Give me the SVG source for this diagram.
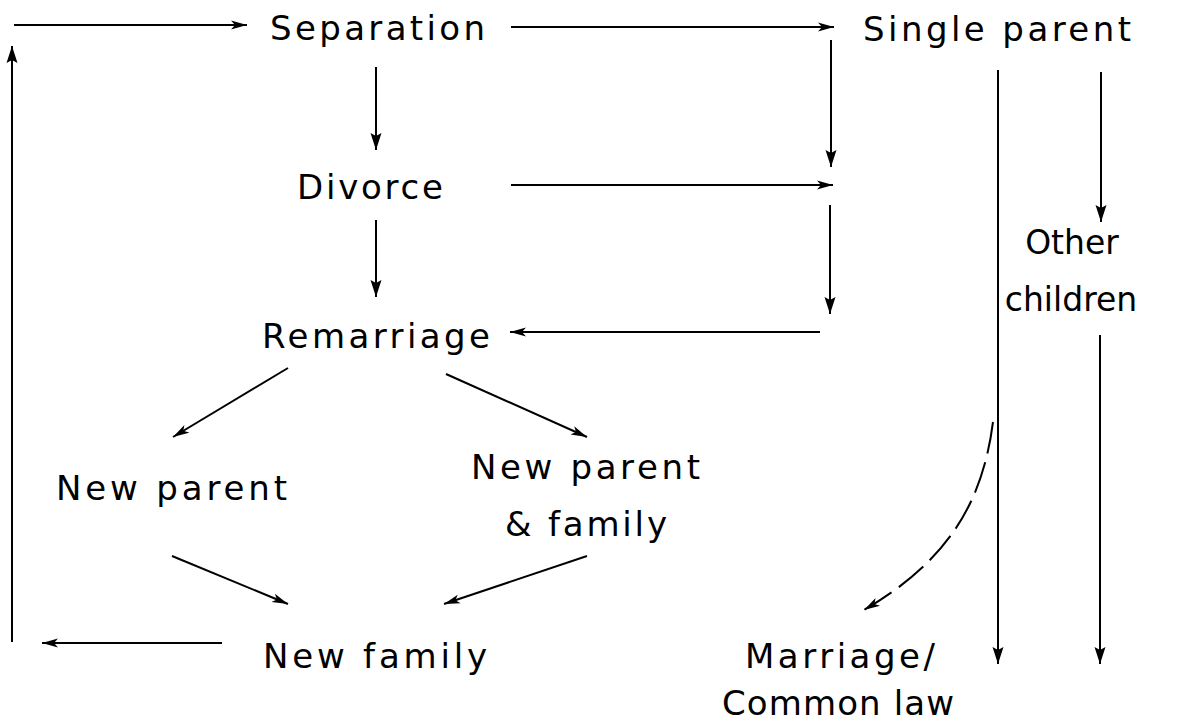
<svg xmlns="http://www.w3.org/2000/svg" width="1198" height="722" viewBox="0 0 1198 722">
<style>
text{font-family:"DejaVu Sans","Liberation Sans",Arial,sans-serif;font-size:34px;fill:#000}
.m{text-anchor:middle;font-size:33px}
.c{fill:none;stroke:#000;stroke-width:2}
.d{stroke-dasharray:32 9}
</style>
<defs>
<marker id="tri" markerUnits="userSpaceOnUse" markerWidth="18" markerHeight="14" refX="17" refY="6" orient="auto">
<path d="M0,0.5 L17,6 L0,11.5 L3,6 z" fill="#000"/>
</marker>
<marker id="barb" markerUnits="userSpaceOnUse" markerWidth="18" markerHeight="12" refX="16" refY="5" orient="auto">
<path d="M0,0.5 L16,5 L0,9.5 L4,5 z" fill="#000"/>
</marker>
</defs>
<rect width="1198" height="722" fill="#fff"/>
<g id="connectors">
<path class="c" d="M14,25 H247" marker-end="url(#barb)"/>
<path class="c" d="M12,642 V46" marker-end="url(#tri)"/>
<path class="c" d="M511,27 H834" marker-end="url(#barb)"/>
<path class="c" d="M376,67 V150" marker-end="url(#tri)"/>
<path class="c" d="M831,40 V167" marker-end="url(#tri)"/>
<path class="c" d="M511,185 H833" marker-end="url(#barb)"/>
<path class="c" d="M376,220 V297" marker-end="url(#tri)"/>
<path class="c" d="M830,205 V314" marker-end="url(#tri)"/>
<path class="c" d="M820,332 H510" marker-end="url(#barb)"/>
<path class="c" d="M288,368 L173,437" marker-end="url(#barb)"/>
<path class="c" d="M446,374 L587,437" marker-end="url(#barb)"/>
<path class="c" d="M172,556 L288,604" marker-end="url(#barb)"/>
<path class="c" d="M587,556 L444,604" marker-end="url(#barb)"/>
<path class="c" d="M222,643 H42" marker-end="url(#barb)"/>
<path class="c" d="M998,70 V664" marker-end="url(#tri)"/>
<path class="c" d="M1101,72 V222" marker-end="url(#tri)"/>
<path class="c" d="M1100,335 V664" marker-end="url(#tri)"/>
<path class="c d" d="M993,422 C983,500 950,560 864,610" marker-end="url(#barb)"/>
</g>
<g id="separation"><text x="270" y="40" textLength="215" lengthAdjust="spacing">Separation</text></g>
<g id="single-parent"><text x="863" y="41" textLength="268" lengthAdjust="spacing">Single parent</text></g>
<g id="divorce"><text x="297" y="199" textLength="146" lengthAdjust="spacing">Divorce</text></g>
<g id="other-children"><text class="m" x="1072" y="254">Other</text><text class="m" x="1071" y="311">children</text></g>
<g id="remarriage"><text x="262" y="348" textLength="228" lengthAdjust="spacing">Remarriage</text></g>
<g id="new-parent"><text x="56" y="500" textLength="231" lengthAdjust="spacing">New parent</text></g>
<g id="new-parent-family"><text x="471" y="479" textLength="229" lengthAdjust="spacing">New parent</text><text x="505" y="536" textLength="162" lengthAdjust="spacing">&amp; family</text></g>
<g id="new-family"><text x="263" y="668" textLength="224" lengthAdjust="spacing">New family</text></g>
<g id="marriage"><text x="745" y="668" textLength="190" lengthAdjust="spacing">Marriage/</text><text x="722" y="715" textLength="232" lengthAdjust="spacing">Common law</text></g>
</svg>
